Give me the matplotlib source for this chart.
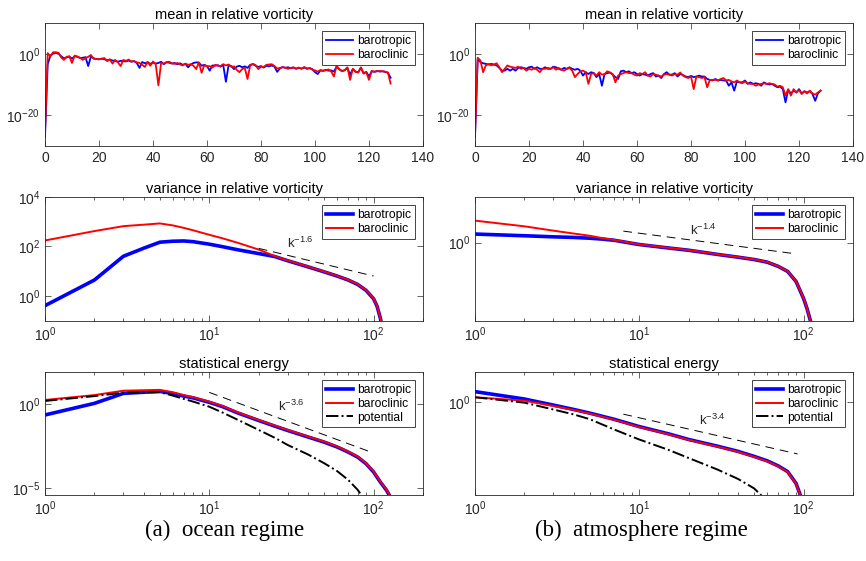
import numpy as np
import matplotlib
matplotlib.use('Agg')
import matplotlib.pyplot as plt
from matplotlib.ticker import NullLocator, NullFormatter

plt.rcParams['font.family'] = ['Liberation Sans', 'DejaVu Sans']
plt.rcParams['mathtext.fontset'] = 'custom'
plt.rcParams['mathtext.rm'] = 'Liberation Sans'
plt.rcParams['mathtext.it'] = 'Liberation Sans:italic'
plt.rcParams['mathtext.bf'] = 'Liberation Sans:bold'
plt.rcParams['axes.unicode_minus'] = False

# ---- mean in relative vorticity (log10 values), modes k = 0..128
k_mean = list(range(129))
ocean_mean_bt = [-27.0, -3.4, -0.6, 0.0, 0.3, 0.0, -0.8, -1.5, -1.2, -0.9,
                 -1.6, -0.8, -1.0, -1.4, -1.3, -1.1, -4.0, -0.9, -1.5, -1.7,
                 -1.8, -1.6, -1.8, -2.1, -1.9, -2.2, -2.3, -2.6, -2.3, -2.4,
                 -2.5, -2.2, -2.6, -2.4, -3.0, -4.6, -2.7, -3.1, -2.8, -3.3,
                 -2.9, -3.2, -3.0, -2.6, -3.4, -2.8, -2.9, -3.2, -3.0, -3.4,
                 -3.1, -3.6, -3.3, -4.4, -3.5, -3.0, -2.8, -2.9, -3.9, -3.6,
                 -4.0, -5.5, -3.8, -3.9, -3.7, -4.2, -3.6, -9.1, -3.7, -4.0,
                 -5.0, -4.2, -3.9, -4.4, -4.1, -4.6, -3.6, -3.4, -3.9, -4.3,
                 -4.0, -4.5, -3.9, -4.1, -3.8, -4.2, -5.9, -4.8, -4.3, -4.6,
                 -4.4, -4.7, -4.5, -4.9, -4.6, -4.8, -4.5, -4.9, -4.7, -5.0,
                 -6.0, -6.6, -5.4, -5.6, -5.2, -5.5, -5.4, -5.8, -4.2, -5.0,
                 -5.6, -5.3, -4.6, -6.8, -5.0, -5.8, -6.0, -4.6, -6.3, -5.9,
                 -7.4, -5.7, -5.9, -5.6, -5.8, -5.7, -5.9, -6.2, -7.8]
ocean_mean_bc = [-25.5, 0.2, -0.8, 0.5, 0.5, 0.3, -1.2, -2.0, -1.0, -0.8,
                 -3.0, -0.6, -0.9, -1.3, -2.0, -1.4, -1.0, -0.4, -1.6, -1.7,
                 -1.8, -1.6, -1.4, -2.4, -1.8, -3.2, -2.0, -2.8, -4.0, -2.0,
                 -2.3, -1.9, -2.5, -2.4, -2.8, -3.0, -3.6, -4.3, -2.6, -3.9,
                 -2.5, -3.4, -10.3, -3.0, -3.2, -2.7, -2.6, -3.1, -3.3, -3.0,
                 -3.5, -3.8, -3.2, -3.6, -3.4, -3.9, -5.0, -2.8, -6.2, -3.7,
                 -4.1, -4.0, -4.5, -3.6, -3.9, -4.0, -3.4, -3.8, -3.5, -4.3,
                 -4.1, -5.2, -6.0, -5.0, -4.6, -8.2, -3.8, -3.3, -3.7, -5.0,
                 -4.2, -4.3, -3.6, -3.5, -3.4, -4.0, -4.8, -4.6, -4.4, -4.5,
                 -4.9, -4.6, -4.4, -4.8, -4.5, -4.9, -4.3, -4.8, -4.6, -5.2,
                 -5.4, -5.8, -5.3, -5.5, -5.4, -5.1, -5.8, -7.4, -3.9, -5.1,
                 -5.7, -5.4, -4.4, -8.5, -4.9, -5.9, -6.1, -4.4, -6.5, -6.0,
                 -8.5, -5.6, -5.8, -5.7, -5.6, -5.7, -5.8, -6.1, -9.7]
atm_mean_bt = [-27.3, -1.6, -2.7, -3.1, -3.3, -3.5, -3.3, -3.5, -3.8, -4.6,
               -5.5, -5.5, -4.9, -5.5, -4.9, -5.5, -4.6, -4.4, -4.6, -4.9,
               -4.4, -4.2, -4.9, -4.4, -4.9, -4.9, -4.4, -4.9, -4.9, -4.2,
               -4.4, -4.9, -5.2, -4.6, -4.9, -4.4, -4.9, -5.2, -4.9, -5.5,
               -7.1, -6.0, -6.6, -6.0, -6.3, -7.6, -6.6, -10.4, -6.6, -6.3,
               -6.1, -6.8, -7.6, -8.2, -5.7, -5.5, -6.0, -5.7, -6.3, -6.0,
               -6.6, -7.1, -6.6, -6.8, -7.1, -6.6, -6.3, -7.4, -7.1, -7.9,
               -6.6, -6.0, -6.8, -6.8, -6.3, -7.4, -6.6, -6.9, -7.4, -7.6,
               -7.2, -7.6, -7.4, -7.1, -7.4, -7.4, -8.2, -8.5, -8.7, -8.2,
               -8.7, -8.5, -8.7, -8.7, -10.4, -9.3, -12.0, -9.0, -9.3, -9.3,
               -8.7, -9.8, -9.3, -9.8, -9.6, -9.8, -10.4, -9.3, -9.8, -10.0,
               -9.8, -10.4, -10.9, -10.7, -11.5, -15.8, -11.8, -12.9, -12.0, -12.6,
               -11.5, -12.9, -12.2, -12.6, -12.2, -13.1, -15.3, -12.9, -12.0]
atm_mean_bc = [-26.2, -1.3, -2.2, -6.0, -3.8, -3.3, -3.8, -3.5, -3.1, -4.4,
               -6.0, -4.9, -3.8, -4.2, -4.4, -4.6, -4.2, -4.9, -4.6, -5.5,
               -4.9, -5.2, -4.6, -5.2, -6.0, -4.9, -4.9, -4.6, -4.9, -4.4,
               -5.2, -4.6, -5.2, -5.5, -4.9, -4.6, -5.5, -7.6, -6.6, -5.7,
               -5.5, -6.0, -9.8, -6.6, -6.3, -7.1, -6.0, -6.8, -6.6, -5.7,
               -6.1, -6.6, -9.3, -7.1, -6.6, -6.3, -6.0, -6.3, -6.3, -6.8,
               -7.1, -6.3, -6.6, -6.0, -7.1, -7.4, -6.6, -6.8, -7.1, -7.4,
               -6.8, -6.6, -6.8, -7.1, -6.6, -6.8, -6.1, -7.1, -7.6, -7.9,
               -7.4, -11.5, -7.4, -7.6, -7.9, -7.6, -10.9, -8.5, -8.5, -8.5,
               -8.7, -8.2, -7.9, -8.7, -8.5, -9.0, -9.3, -8.7, -9.3, -9.6,
               -9.0, -9.6, -9.8, -9.8, -10.4, -10.0, -9.8, -9.6, -9.8, -9.6,
               -9.8, -10.0, -10.7, -10.4, -10.9, -13.6, -11.5, -13.6, -11.5, -12.6,
               -11.8, -13.1, -12.2, -12.9, -12.0, -12.9, -13.3, -12.6, -12.0]

# ---- variance in relative vorticity (log10 values)
k_ocean_var = [1, 2, 3, 4, 5, 6, 7, 8, 10, 12, 15, 20, 25, 30, 40, 50, 60, 70, 80, 90, 100, 105, 110, 115]
ocean_var_bt = [-0.4, 0.64, 1.6, 1.93, 2.17, 2.21, 2.22, 2.19, 2.09, 1.99, 1.86, 1.71, 1.59, 1.42,
                1.17, 0.97, 0.8, 0.64, 0.46, 0.22, -0.12, -0.42, -0.9, -1.6]
ocean_var_bc = [2.24, 2.62, 2.82, 2.88, 2.93, 2.85, 2.75, 2.65, 2.47, 2.33, 2.14, 1.87, 1.61, 1.43,
                1.18, 0.98, 0.81, 0.65, 0.47, 0.23, -0.11, -0.41, -0.89, -1.6]
k_atm_var = [1, 2, 3, 4, 5, 6, 7, 10, 15, 20, 30, 40, 50, 60, 70, 80, 90, 100, 105, 110, 113]
atm_var_bt = [0.55, 0.44, 0.37, 0.33, 0.28, 0.22, 0.15, -0.13, -0.35, -0.5, -0.77, -0.95, -1.1,
              -1.27, -1.54, -1.87, -2.52, -3.62, -4.28, -5.05, -5.6]
atm_var_bc = [1.42, 1.05, 0.77, 0.58, 0.44, 0.28, 0.17, -0.12, -0.34, -0.49, -0.76, -0.94, -1.09,
              -1.26, -1.53, -1.86, -2.51, -3.61, -4.27, -5.04, -5.6]

# ---- statistical energy (log10 values)
k_ocean_en = [1, 2, 3, 4, 5, 6, 7, 8, 10, 12, 15, 20, 25, 30, 40, 50, 60, 70, 80, 90, 100, 110, 120, 125, 130]
ocean_en_bt = [-0.65, 0.04, 0.63, 0.7, 0.75, 0.62, 0.47, 0.36, 0.1, -0.15, -0.54, -0.98, -1.31,
               -1.57, -1.96, -2.26, -2.55, -2.85, -3.15, -3.54, -4.03, -4.63, -5.12, -5.43, -5.85]
ocean_en_bc = [0.24, 0.53, 0.79, 0.82, 0.84, 0.7, 0.53, 0.4, 0.14, -0.12, -0.51, -0.95, -1.28,
               -1.54, -1.93, -2.23, -2.52, -2.82, -3.12, -3.51, -4.0, -4.6, -5.09, -5.4, -5.82]
k_ocean_pot = [1, 2, 3, 4, 5, 6, 7, 8, 10, 12, 15, 20, 25, 30, 40, 50, 60, 70, 80, 90]
ocean_en_pot = [0.18, 0.47, 0.67, 0.69, 0.7, 0.5, 0.3, 0.14, -0.16, -0.5, -0.95, -1.54, -2.0,
                -2.43, -3.0, -3.51, -3.98, -4.5, -5.09, -5.8]
k_atm_en = [1, 2, 3, 4, 5, 7, 10, 15, 20, 30, 40, 50, 60, 70, 80, 90, 95, 98]
atm_en_bt = [0.97, 0.3, -0.25, -0.65, -0.98, -1.53, -2.2, -2.85, -3.37, -3.98, -4.45, -4.9,
             -5.3, -5.76, -6.28, -7.35, -8.3, -9.0]
atm_en_bc = [0.46, 0.15, -0.33, -0.7, -1.02, -1.57, -2.24, -2.89, -3.41, -4.02, -4.49, -4.94,
             -5.34, -5.8, -6.32, -7.39, -8.34, -9.04]
k_atm_pot = [1, 2, 3, 4, 5, 7, 10, 15, 20, 30, 40, 50, 55, 60]
atm_en_pot = [0.46, -0.03, -0.65, -1.1, -1.53, -2.45, -3.37, -4.3, -5.05, -6.1, -6.95, -7.8, -8.4, -9.0]

# ---- reference power-law slopes (end points, log10 values)
ocean_var_ref_k, ocean_var_ref = [20, 100], [1.92, 0.80]
atm_var_ref_k, atm_var_ref = [8, 88], [0.74, -0.72]
ocean_en_ref_k, ocean_en_ref = [10, 95], [0.69, -2.83]
atm_en_ref_k, atm_en_ref = [8, 92], [-1.07, -4.68]

GRAY = '#262626'


def pw(v):
    return 10.0 ** np.array(v)


def style(ax):
    ax.tick_params(which='both', direction='in', top=True, right=True,
                   colors=GRAY, labelsize=10, width=0.5)
    ax.tick_params(which='major', length=4)
    ax.tick_params(which='minor', length=2)
    for s in ax.spines.values():
        s.set_color(GRAY)
        s.set_linewidth(0.6)


def legend(ax):
    leg = ax.legend(loc='upper right', fontsize=8.7, fancybox=False, edgecolor=GRAY,
                    framealpha=1, borderpad=0.3, labelspacing=0.15, handlelength=2.3,
                    handletextpad=0.3, borderaxespad=0.7)
    leg.get_frame().set_linewidth(0.6)


def loglog_axes(ax, title, ylim, yticks):
    ax.set_xscale('log')
    ax.set_yscale('log')
    ax.set_xlim(1, 200)
    ax.set_ylim(*ylim)
    ax.set_xticks([1, 10, 100])
    ax.xaxis.set_minor_formatter(NullFormatter())
    ax.set_yticks(yticks)
    ax.yaxis.set_minor_locator(NullLocator())
    ax.set_title(title, fontsize=10.5, pad=3)
    style(ax)


fig = plt.figure(figsize=(8.66, 5.61), dpi=100)
W, H = 866.0, 561.0
lefts = [45 / W, 475 / W]
width = 378 / W
rows = [(23, 146), (197, 320.5), (372, 495)]


def make_ax(col, row):
    top, bot = rows[row]
    return fig.add_axes([lefts[col], 1 - bot / H, width, (bot - top) / H])


# top row: mean
for col, (bt, bc) in enumerate([(ocean_mean_bt, ocean_mean_bc), (atm_mean_bt, atm_mean_bc)]):
    ax = make_ax(col, 0)
    ax.semilogy(k_mean, pw(bt), color='b', lw=1.3, label='barotropic')
    ax.semilogy(k_mean, pw(bc), color='r', lw=1.3, label='baroclinic')
    ax.set_xlim(0, 140)
    ax.set_xticks(range(0, 141, 20))
    ax.set_ylim(1e-30, 1e10)
    ax.set_yticks([1e-20, 1])
    ax.set_yticklabels([r'$10^{-20}$', r'$10^{0}$'])
    ax.yaxis.set_minor_locator(NullLocator())
    ax.set_title('mean in relative vorticity', fontsize=10.5, pad=3)
    style(ax)
    legend(ax)

# middle row: variance
ax = make_ax(0, 1)
ax.plot(k_ocean_var, pw(ocean_var_bt), color='b', lw=2.6, label='barotropic')
ax.plot(k_ocean_var, pw(ocean_var_bc), color='r', lw=1.4, label='baroclinic')
ax.plot(ocean_var_ref_k, pw(ocean_var_ref), color='k', lw=0.7, dashes=(9, 6))
ax.text(29.8, 10 ** 1.95, r'$\mathregular{k^{-1.6}}$', fontsize=9.5, color=GRAY)
loglog_axes(ax, 'variance in relative vorticity', (1e-1, 1e4), [1, 1e2, 1e4])
legend(ax)

ax = make_ax(1, 1)
ax.plot(k_atm_var, pw(atm_var_bt), color='b', lw=2.6, label='barotropic')
ax.plot(k_atm_var, pw(atm_var_bc), color='r', lw=1.4, label='baroclinic')
ax.plot(atm_var_ref_k, pw(atm_var_ref), color='k', lw=0.7, dashes=(9, 6))
ax.text(20.5, 10 ** 0.5, r'$\mathregular{k^{-1.4}}$', fontsize=9.5, color=GRAY)
loglog_axes(ax, 'variance in relative vorticity', (10 ** -5.05, 10 ** 2.95), [1])
legend(ax)

# bottom row: energy
ax = make_ax(0, 2)
ax.plot(k_ocean_en, pw(ocean_en_bt), color='b', lw=2.6, label='barotropic')
ax.plot(k_ocean_en, pw(ocean_en_bc), color='r', lw=1.4, label='baroclinic')
ax.plot(k_ocean_pot, pw(ocean_en_pot), color='k', lw=1.4, ls='-.', label='potential')
ax.plot(ocean_en_ref_k, pw(ocean_en_ref), color='k', lw=0.7, dashes=(9, 6))
ax.text(26.1, 10 ** -0.4, r'$\mathregular{k^{-3.6}}$', fontsize=9.5, color=GRAY)
loglog_axes(ax, 'statistical energy', (10 ** -5.4, 10 ** 1.9), [1e-5, 1])
legend(ax)

ax = make_ax(1, 2)
ax.plot(k_atm_en, pw(atm_en_bt), color='b', lw=2.6, label='barotropic')
ax.plot(k_atm_en, pw(atm_en_bc), color='r', lw=1.4, label='baroclinic')
ax.plot(k_atm_pot, pw(atm_en_pot), color='k', lw=1.4, ls='-.', label='potential')
ax.plot(atm_en_ref_k, pw(atm_en_ref), color='k', lw=0.7, dashes=(9, 6))
ax.text(23, 10 ** -2.08, r'$\mathregular{k^{-3.4}}$', fontsize=9.5, color=GRAY)
loglog_axes(ax, 'statistical energy', (10 ** -8.4, 10 ** 2.75), [1])
legend(ax)

fig.text(225 / W, 1 - 530 / H, '(a)  ocean regime', ha='center', va='center',
         family='Liberation Serif', fontsize=16.5)
fig.text(641 / W, 1 - 530 / H, '(b)  atmosphere regime', ha='center', va='center',
         family='Liberation Serif', fontsize=16.5)

fig.savefig('out.png', dpi=100)
